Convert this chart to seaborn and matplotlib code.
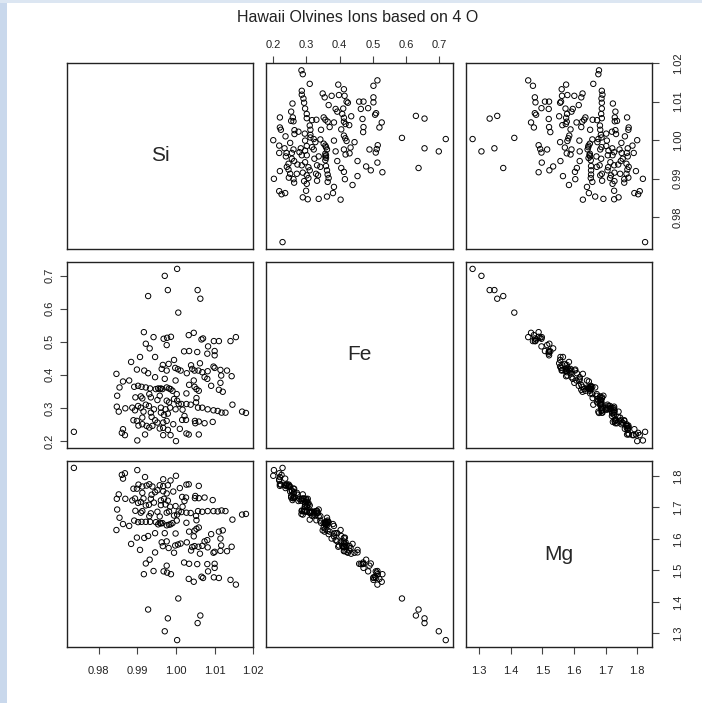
import matplotlib
matplotlib.use("Agg")
import matplotlib.pyplot as plt
from matplotlib.patches import Rectangle
import pandas as pd
import seaborn as sns

title = "Hawaii Olvines Ions based on 4 O"
var_names = ["Si", "Fe", "Mg"]

si = [1.0003, 0.9971, 0.9979, 1.0056, 1.0063, 0.9928, 1.0006,
      0.9917, 0.9942, 0.9968, 0.9977, 0.9987, 1.0033, 1.0046, 1.0070, 1.0066, 1.0098, 1.0111, 1.0141, 1.0155, 0.9922, 0.9932, 0.9976,
      1.0021, 1.0034, 1.0055, 1.0081, 1.0100, 1.0100, 1.0083, 0.9907, 0.9946, 0.9884, 0.9995, 0.9966, 0.9981, 0.9963, 0.9976, 0.9998,
      1.0005, 1.0012, 1.0028, 1.0039, 1.0042, 1.0048, 1.0062, 1.0058, 1.0068, 1.0082, 1.0074, 1.0081, 1.0097, 1.0100, 1.0115, 1.0132,
      1.0144, 1.0117,
      0.9899, 0.9918, 0.9928, 0.9846, 0.9863, 0.9854, 0.9879, 0.9892, 0.9902, 0.9911, 0.9922, 0.9933, 0.9948, 0.9958, 0.9965, 0.9976,
      0.9982, 0.9991, 0.9999, 1.0002, 0.9971, 0.9946, 1.0046, 1.0048, 1.0053, 1.0059, 1.0034, 1.0091, 1.0111, 1.0121, 1.0115,
      0.9848, 0.9895, 0.9909, 0.9913, 0.9935, 0.9952, 0.9931, 0.9958, 0.9976, 0.9982, 0.9995, 1.0003, 1.0007, 1.0014, 1.0027, 1.0027,
      1.0038, 1.0053, 1.0052, 1.0057, 1.0068, 1.0082, 1.0097, 1.0108, 1.0118, 1.0128, 1.0146, 1.0171, 1.0181,
      0.9847, 0.9852, 0.9869, 0.9887, 0.9894, 0.9902, 0.9909, 0.9922, 0.9930, 0.9916, 0.9935, 0.9943, 0.9961, 0.9973, 0.9985, 0.9961,
      0.9969, 0.9979, 1.0017, 1.0022, 1.0016, 1.0026,
      0.9890, 0.9899, 0.9913, 0.9937, 0.9946, 0.9952, 0.9967, 0.9976, 0.9993, 0.9903, 0.9913, 0.9924, 0.9931, 0.9939, 0.9958, 0.9967,
      0.9979, 1.0049, 1.0050, 1.0059, 1.0074, 1.0095, 1.0010, 1.0027, 1.0033, 1.0059, 0.9863, 0.9860, 0.9868, 0.9920, 0.9900, 0.9967,
      0.9986, 1.0000, 0.9736, 0.9999, 0.9954, 0.9961, 0.9986]

fe = [0.720, 0.699, 0.656, 0.656, 0.630, 0.638, 0.588,
      0.529, 0.514, 0.509, 0.512, 0.515, 0.520, 0.527, 0.510, 0.507, 0.502, 0.502, 0.502, 0.514, 0.494, 0.480, 0.490,
      0.471, 0.472, 0.469, 0.464, 0.472, 0.459, 0.486, 0.454, 0.454, 0.439, 0.445, 0.430, 0.433, 0.418, 0.413, 0.421,
      0.417, 0.413, 0.405, 0.429, 0.418, 0.413, 0.435, 0.413, 0.408, 0.411, 0.393, 0.388, 0.425, 0.421, 0.415, 0.413,
      0.396, 0.398,
      0.416, 0.413, 0.405, 0.403, 0.380, 0.362, 0.383, 0.364, 0.367, 0.364, 0.362, 0.359, 0.357, 0.357, 0.357, 0.362,
      0.359, 0.352, 0.383, 0.342, 0.388, 0.393, 0.383, 0.364, 0.357, 0.352, 0.370, 0.367, 0.355, 0.349, 0.376,
      0.337, 0.332, 0.335, 0.329, 0.332, 0.324, 0.342, 0.337, 0.322, 0.317, 0.327, 0.322, 0.312, 0.312, 0.344, 0.312,
      0.310, 0.330, 0.317, 0.301, 0.301, 0.296, 0.293, 0.291, 0.286, 0.286, 0.310, 0.289, 0.285,
      0.304, 0.289, 0.299, 0.301, 0.293, 0.306, 0.301, 0.310, 0.306, 0.289, 0.286, 0.296, 0.301, 0.296, 0.301, 0.286,
      0.279, 0.283, 0.295, 0.276, 0.264, 0.264,
      0.263, 0.261, 0.271, 0.273, 0.263, 0.256, 0.256, 0.261, 0.251, 0.247, 0.251, 0.246, 0.241, 0.246, 0.238, 0.240,
      0.234, 0.261, 0.254, 0.259, 0.254, 0.258, 0.237, 0.223, 0.220, 0.220, 0.236, 0.225, 0.218, 0.220, 0.202, 0.218,
      0.218, 0.200, 0.228, 0.296, 0.359, 0.359, 0.357]

mg = [1.279, 1.307, 1.348, 1.333, 1.357, 1.376, 1.411,
      1.488, 1.498, 1.497, 1.493, 1.488, 1.473, 1.464, 1.476, 1.480, 1.478, 1.476, 1.470, 1.455, 1.522, 1.534, 1.515,
      1.525, 1.521, 1.520, 1.520, 1.508, 1.521, 1.497, 1.565, 1.557, 1.584, 1.556, 1.577, 1.571, 1.589, 1.592, 1.579,
      1.582, 1.585, 1.589, 1.563, 1.574, 1.577, 1.553, 1.575, 1.578, 1.573, 1.592, 1.596, 1.556, 1.559, 1.562, 1.561,
      1.575, 1.579,
      1.604, 1.603, 1.609, 1.628, 1.647, 1.667, 1.641, 1.658, 1.653, 1.654, 1.654, 1.654, 1.653, 1.651, 1.650, 1.643,
      1.645, 1.650, 1.617, 1.658, 1.618, 1.618, 1.608, 1.626, 1.632, 1.636, 1.623, 1.615, 1.623, 1.627, 1.601,
      1.693, 1.689, 1.683, 1.688, 1.681, 1.686, 1.672, 1.671, 1.683, 1.687, 1.674, 1.677, 1.687, 1.685, 1.651, 1.683,
      1.682, 1.659, 1.673, 1.688, 1.686, 1.688, 1.688, 1.687, 1.690, 1.688, 1.661, 1.677, 1.679,
      1.727, 1.741, 1.727, 1.722, 1.728, 1.714, 1.717, 1.706, 1.708, 1.728, 1.727, 1.715, 1.707, 1.709, 1.702, 1.722,
      1.727, 1.721, 1.702, 1.720, 1.733, 1.731,
      1.759, 1.759, 1.746, 1.740, 1.748, 1.754, 1.751, 1.744, 1.750, 1.772, 1.766, 1.769, 1.773, 1.766, 1.770, 1.767,
      1.770, 1.729, 1.736, 1.729, 1.731, 1.723, 1.761, 1.772, 1.773, 1.768, 1.791, 1.803, 1.808, 1.796, 1.818, 1.789,
      1.785, 1.800, 1.825, 1.704, 1.646, 1.649, 1.646]

si_ticks = [0.98, 0.99, 1.00, 1.01, 1.02]
si_labels = ["0.98", "0.99", "1.00", "1.01", "1.02"]
fe_ticks = [0.2, 0.3, 0.4, 0.5, 0.6, 0.7]
fe_labels = ["0.2", "0.3", "0.4", "0.5", "0.6", "0.7"]
mg_ticks = [1.3, 1.4, 1.5, 1.6, 1.7, 1.8]
mg_labels = ["1.3", "1.4", "1.5", "1.6", "1.7", "1.8"]

df = pd.DataFrame({"Si": si, "Fe": fe, "Mg": mg})
ticks = {"Si": (si_ticks, si_labels), "Fe": (fe_ticks, fe_labels), "Mg": (mg_ticks, mg_labels)}

sns.set_style("white")
plt.rcParams["font.family"] = ["Liberation Sans", "DejaVu Sans"]
plt.rcParams["axes.edgecolor"] = "black"
plt.rcParams["axes.linewidth"] = 1.0

g = sns.PairGrid(df, vars=var_names, height=2.34, aspect=1.0, despine=False)
g.map_offdiag(sns.scatterplot, marker="o", facecolors="none", edgecolor="black",
              s=15, linewidth=0.7)

fig = g.figure
fig.set_size_inches(7.02, 7.03)
fig.subplots_adjust(left=67/702, right=652/702, top=1-63/703, bottom=1-647/703,
                    wspace=0.07, hspace=0.07)

lims = {}
for v in var_names:
    lo, hi = df[v].min(), df[v].max()
    pad = 0.04 * (hi - lo)
    lims[v] = (lo - pad, hi + pad)

n = len(var_names)
for i in range(n):
    for j in range(n):
        ax = g.axes[i, j]
        vx, vy = var_names[j], var_names[i]
        ax.set_xlim(lims[vx])
        ax.set_ylim(lims[vy])
        ax.set_xticks(ticks[vx][0])
        ax.set_yticks(ticks[vy][0])
        ax.set_xlabel("")
        ax.set_ylabel("")
        ax.tick_params(bottom=False, top=False, left=False, right=False,
                       labelbottom=False, labeltop=False, labelleft=False, labelright=False)
        for s in ax.spines.values():
            s.set_color("#222222")
            s.set_linewidth(1.0)
        if i == j:
            ax.text(0.5, 0.5, var_names[i], transform=ax.transAxes, ha="center", va="center",
                    fontsize=15)

tick_kw = dict(direction="out", length=5, width=0.8, color="#444444", labelsize=8, labelcolor="#222222")

# R-style alternating axes
for j in range(n):
    if j % 2 == 0:
        ax = g.axes[n-1, j]
        ax.tick_params(axis="x", bottom=True, labelbottom=True, pad=9, **tick_kw)
        ax.set_xticklabels(ticks[var_names[j]][1])
    else:
        ax = g.axes[0, j]
        ax.tick_params(axis="x", top=True, labeltop=True, pad=4, **tick_kw)
        ax.set_xticklabels(ticks[var_names[j]][1])
for i in range(n):
    if i % 2 == 1:
        ax = g.axes[i, 0]
        ax.tick_params(axis="y", left=True, labelleft=True, pad=4, labelrotation=90, **tick_kw)
        ax.set_yticklabels(ticks[var_names[i]][1], va="center")
    else:
        ax = g.axes[i, n-1]
        ax.tick_params(axis="y", right=True, labelright=True, pad=10, labelrotation=90, **tick_kw)
        ax.set_yticklabels(ticks[var_names[i]][1], va="center")

fig.text(358/702, 1-18/703, title, ha="center", va="center", fontsize=11.5, color="#222222")

# light blue frame strips as in the screenshot
fig.patches.append(Rectangle((0, 0), 7/702, 1, transform=fig.transFigure,
                             facecolor="#c9d8ec", edgecolor="none", zorder=-1))
fig.patches.append(Rectangle((0, 1-3/703), 1, 3/703, transform=fig.transFigure,
                             facecolor="#dce6f2", edgecolor="none", zorder=-1))

fig.savefig("out.png", dpi=100, facecolor="white")
